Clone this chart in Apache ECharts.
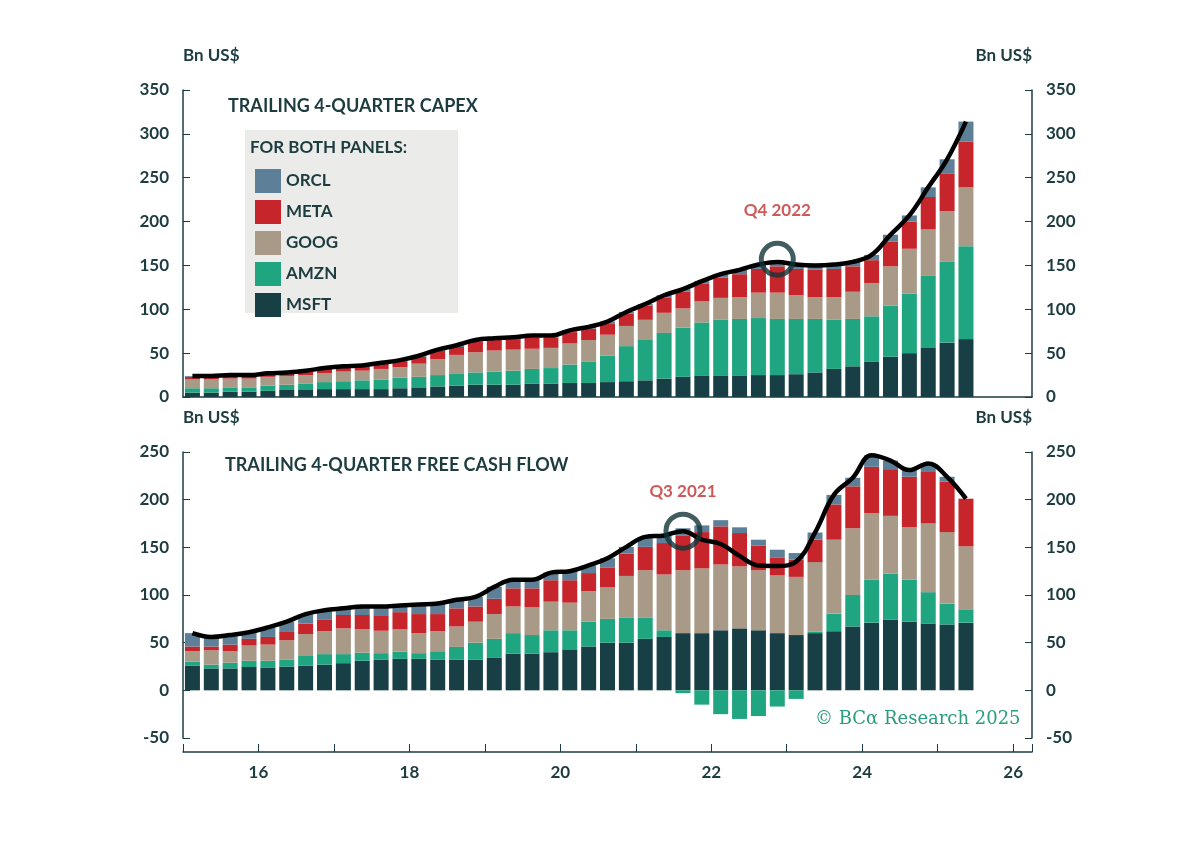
<!DOCTYPE html>
<html>
<head>
<meta charset="utf-8">
<script src="https://cdn.jsdelivr.net/npm/echarts@6/dist/echarts.min.js"></script>
<style>
  html, body { margin: 0; padding: 0; background: #fff; }
  #main { width: 1200px; height: 860px; }
</style>
</head>
<body>
<div id="main"></div>
<script>
// quarters 2015Q1 .. 2025Q2
const quarters = [];
for (let y = 2015; y <= 2025; y++) {
  for (let q = 1; q <= 4; q++) {
    if (y === 2025 && q > 2) break;
    quarters.push(y + 'Q' + q);
  }
}
// empty slots to the right of the last bar (axis runs to mid 2026)
const slots = quarters.concat(['2025Q3', '2025Q4', '2026Q1']);

// trailing 4-quarter capex, Bn US$
const capexMSFT = [5,5,6,6, 7,8,8,9, 9,9,9,10, 11,12,13,14, 14,14,15,15, 16,16,17,18, 19,21,23,24, 24,24,25,25, 26,28,32,35, 40,46,50,56, 62,66];
const capexAMZN = [5,5,5,5, 6,6,7,8, 9,10,11,12, 12,13,14,14, 15,16,17,18, 21,24,30,40, 46,52,56,61, 64,65,65,64, 63,61,56,54, 52,58,68,82, 92,106];
const capexGOOG = [10,10,10,10, 10,10,10,10, 11,11,12,12, 15,18,21,23, 24,24,23,23, 24,25,24,23, 23,23,22,24, 25,25,29,30, 27,25,26,31, 38,45,51,53, 58,67];
const capexMETA = [3,3,3,3, 3,3,4,5, 5,5,6,7, 8,10,9,12, 12,12,13,12, 13,13,13,14, 16,17,19,20, 23,26,27,30, 30,31,32,29, 26,28,31,37, 43,52];
const capexORCL = [1,1,1,1, 1,1,1,1, 1,1,1,1, 1,1,2,2, 2,2,2,2, 2,2,2,2, 2,3,3,3, 4,5,5,5, 5,5,5,5, 6,8,7,11, 16,23];

// trailing 4-quarter free cash flow, Bn US$
const fcfMSFT = [26,23,23,24.5, 24,25,26,27, 28.5,31,32,33, 33,32,32,32, 34,38.5,38.5,40, 43,46,50,50, 54,56,60,60, 63,65,63,60, 58,60,62,67, 71,74,72,70, 69,71];
const fcfAMZN = [4,4,6,6.5, 7,7,10,11, 9.5,8.5,7,7.5, 6,9,13.5,18, 20,21.5,19.5,23, 20,26,25,26, 22,7,-3,-15, -25,-30,-27,-17, -9,1.5,18.5,33, 45,48.5,44,33, 22,14];
const fcfGOOG = [11,15,12,16, 17,20.5,23,24, 27,24.5,23.5,23.5, 21,21,21.5,22, 26,28,29,30, 29,32,33,44, 50,58.5,66,68, 69,65,63,60.5, 61,73,77.5,70, 70,60.5,55,72, 75,66];
const fcfMETA = [5,4,7,7, 8,9.5,11,12.5, 14,15,15.5,18, 20,18,19,16, 16,19,20,22.5, 23.5,19,20.5,23.5, 24.5,33,36,38, 40,35,26,19, 18,23.5,37,44, 48.5,49,53,54, 53,50];
const fcfORCL = [14,10,10,7, 10,10,10,9.5, 7,9,10,7, 10,11,9,10, 12.5,9,9,8, 9.5,8,10,7, 10.5,8,8,7, 6.5,6,6,8, 7,7.5,10,9, 12,9,7,9, 5,0];

const names = ['MSFT', 'AMZN', 'GOOG', 'META', 'ORCL'];
const colors = ['#173f45', '#1fa57f', '#a89a87', '#c6262b', '#5d8098'];
const capex = [capexMSFT, capexAMZN, capexGOOG, capexMETA, capexORCL];
const fcf = [fcfMSFT, fcfAMZN, fcfGOOG, fcfMETA, fcfORCL];

const sumAt = (arrs, i) => arrs.reduce((a, s) => a + s[i], 0);

const ink = '#1d3c40';
const font = 'Lato';

function yAx(grid, min, max, pos) {
  return {
    type: 'value', gridIndex: grid, min: min, max: max, interval: 50, position: pos,
    name: 'Bn US$', nameGap: 26,
    nameTextStyle: { color: ink, fontSize: 17, fontWeight: 'bold', fontFamily: font,
      align: pos === 'left' ? 'left' : 'right' },
    axisLine: { show: true, lineStyle: { color: ink, width: 1.5 } },
    axisTick: { show: true, inside: true, length: 7, lineStyle: { color: ink } },
    axisLabel: { color: ink, fontSize: 17, fontWeight: 'bold', fontFamily: font, margin: 14 },
    splitLine: { show: false }
  };
}

function catAx(grid, showLine) {
  return {
    type: 'category', gridIndex: grid, data: slots, boundaryGap: true,
    axisLine: { show: showLine, lineStyle: { color: ink, width: 1.5 } },
    axisTick: { show: false }, axisLabel: { show: false }, splitLine: { show: false }
  };
}

// year axis for the bottom panel labels (15.0 .. 26.25 matches the 45 quarter slots)
const yearAxis = {
  type: 'value', gridIndex: 1, min: 15, max: 26.25, interval: 1, position: 'bottom', offset: 14,
  axisLine: { show: true, onZero: false, lineStyle: { color: ink, width: 1.5 } },
  axisTick: { show: true, inside: true, length: 8, lineStyle: { color: ink } },
  axisLabel: { color: ink, fontSize: 17, fontWeight: 'bold', fontFamily: font, margin: 12,
    formatter: v => (v % 2 === 0) ? String(v) : '' },
  splitLine: { show: false }
};

const series = [];
[capex, fcf].forEach((set, g) => {
  set.forEach((arr, k) => {
    series.push({
      name: names[k], type: 'bar', xAxisIndex: g, yAxisIndex: g * 2, stack: 'p' + g,
      barWidth: 15, itemStyle: { color: colors[k] }, data: arr
    });
  });
  series.push({
    type: 'line', xAxisIndex: g, yAxisIndex: g * 2, smooth: 0.4, symbol: 'none', z: 5,
    lineStyle: { color: '#000', width: 4.5 },
    data: quarters.map((q, i) => sumAt(set, i))
  });
});

// highlighted quarters
const capexPeak = quarters.indexOf('2022Q4');
const fcfPeak = quarters.indexOf('2021Q3');
series.push({
  type: 'scatter', xAxisIndex: 0, yAxisIndex: 0, z: 6, symbol: 'circle', symbolSize: 32,
  itemStyle: { color: 'rgba(0,0,0,0)', borderColor: '#123538', borderWidth: 5 },
  label: { show: true, position: 'top', distance: 22, formatter: 'Q4 2022', color: '#c0302f',
    fontSize: 17, fontWeight: 'bold', fontFamily: font },
  data: [[capexPeak, sumAt(capex, capexPeak) + 3]]
});
series.push({
  type: 'scatter', xAxisIndex: 1, yAxisIndex: 2, z: 6, symbol: 'circle', symbolSize: 34,
  itemStyle: { color: 'rgba(0,0,0,0)', borderColor: '#123538', borderWidth: 5 },
  label: { show: true, position: 'top', distance: 12, formatter: 'Q3 2021', color: '#c0302f',
    fontSize: 17, fontWeight: 'bold', fontFamily: font },
  data: [[fcfPeak, sumAt(fcf, fcfPeak)]]
});

const chart = echarts.init(document.getElementById('main'));
chart.setOption({
  backgroundColor: '#fff',
  animation: false,
  grid: [
    { left: 183, right: 168, top: 90, height: 307 },
    { left: 183, right: 168, top: 452, height: 286 }
  ],
  xAxis: [catAx(0, true), catAx(1, false), yearAxis],
  yAxis: [yAx(0, 0, 350, 'left'), yAx(0, 0, 350, 'right'),
          yAx(1, -50, 250, 'left'), yAx(1, -50, 250, 'right')],
  legend: {
    orient: 'vertical', left: 250, top: 164, itemWidth: 26, itemHeight: 24, itemGap: 7,
    data: ['ORCL', 'META', 'GOOG', 'AMZN', 'MSFT'],
    textStyle: { color: ink, fontSize: 17, fontFamily: font, fontWeight: 'bold' },
    icon: 'rect'
  },
  graphic: [
    { type: 'rect', left: 245, top: 130, shape: { width: 213, height: 183 },
      style: { fill: '#ebecea' }, z: -1 },
    { type: 'text', left: 250, top: 139,
      style: { text: 'FOR BOTH PANELS:', fill: ink, fontSize: 17, fontWeight: 'bold', fontFamily: font } },
    { type: 'text', left: 228, top: 97,
      style: { text: 'TRAILING 4-QUARTER CAPEX', fill: ink, fontSize: 18, fontWeight: 'bold', fontFamily: font } },
    { type: 'text', left: 225, top: 456,
      style: { text: 'TRAILING 4-QUARTER FREE CASH FLOW', fill: ink, fontSize: 18, fontWeight: 'bold', fontFamily: font } },
    { type: 'text', left: 815, top: 710,
      style: { text: '© BCα Research 2025', fill: '#2a9d7c', fontSize: 18, fontFamily: 'DejaVu Serif' } }
  ],
  series: series
});
</script>
</body>
</html>
